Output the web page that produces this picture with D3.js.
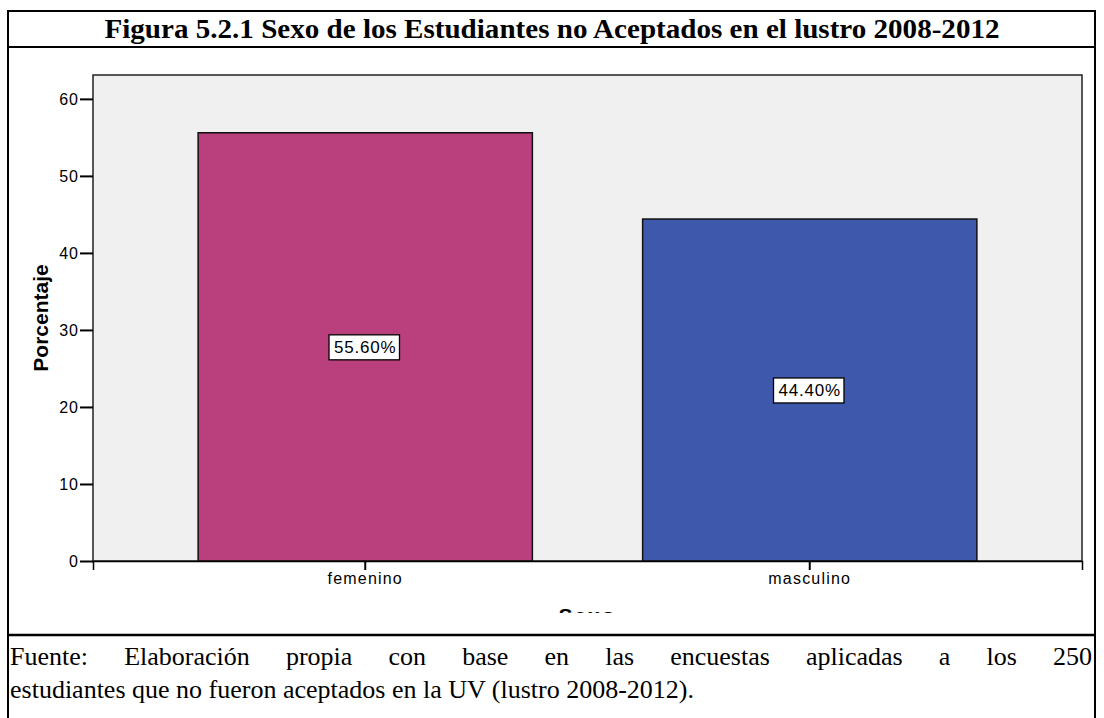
<!DOCTYPE html>
<html>
<head>
<meta charset="utf-8">
<script src="https://cdn.jsdelivr.net/npm/d3@7"></script>
<style>
  body { margin: 0; background: #fff; }
  svg { display: block; }
</style>
</head>
<body>
<svg id="chart"></svg>
<script>
const categories = ["femenino", "masculino"];
const values = [55.6, 44.4];
const barColors = ["#BA3F7D", "#3E58AC"];
const yTicks = [0, 10, 20, 30, 40, 50, 60];
const titleText = "Figura 5.2.1 Sexo de los Estudiantes no Aceptados en el lustro 2008-2012";
const sourceLines = [
    "Fuente: Elaboración propia con base en las encuestas aplicadas a los 250",
    "estudiantes que no fueron aceptados en la UV (lustro 2008-2012)."
];

const width = 1104;
const height = 718;
const plot = { left: 93, right: 1082, top: 75, bottom: 561 };

const svg = d3.select('#chart')
    .attr('width', width)
    .attr('height', height);

// frame of the figure table
const frame = svg.append('g').attr('stroke', '#000').attr('stroke-width', 2);
frame.append('line').attr('x1', 8).attr('x2', 1095).attr('y1', 11).attr('y2', 11);
frame.append('line').attr('x1', 8).attr('x2', 1095).attr('y1', 47).attr('y2', 47);
frame.append('line').attr('x1', 8).attr('x2', 1095).attr('y1', 635).attr('y2', 635).attr('stroke-width', 2.5);
frame.append('line').attr('x1', 8).attr('x2', 8).attr('y1', 10).attr('y2', height);
frame.append('line').attr('x1', 1095).attr('x2', 1095).attr('y1', 10).attr('y2', height);

svg.append('text')
    .attr('x', 552)
    .attr('y', 38)
    .attr('text-anchor', 'middle')
    .attr('font-family', '"Liberation Serif", "Times New Roman", serif')
    .attr('font-weight', 'bold')
    .attr('font-size', 28)
    .attr('textLength', 895)
    .attr('lengthAdjust', 'spacingAndGlyphs')
    .text(titleText);

const x = d3.scaleBand()
    .domain(categories)
    .range([plot.left, plot.right])
    .paddingInner(0.248)
    .paddingOuter(0.2365);

const y = d3.scaleLinear()
    .domain([0, 63.1])
    .range([plot.bottom, plot.top]);

// plot background
svg.append('rect')
    .attr('x', plot.left)
    .attr('y', plot.top)
    .attr('width', plot.right - plot.left)
    .attr('height', plot.bottom - plot.top)
    .attr('fill', '#F0F0F0')
    .attr('stroke', '#222')
    .attr('stroke-width', 1.5);

svg.selectAll('.bar')
    .data(categories)
    .join('rect')
    .attr('class', 'bar')
    .attr('x', d => x(d))
    .attr('y', (d, i) => y(values[i]))
    .attr('width', x.bandwidth())
    .attr('height', (d, i) => y(0) - y(values[i]))
    .attr('fill', (d, i) => barColors[i])
    .attr('stroke', '#111')
    .attr('stroke-width', 1.5);

// axes
const yAxis = svg.append('g')
    .attr('transform', `translate(${plot.left},0)`)
    .call(d3.axisLeft(y).tickValues(yTicks).tickSize(13).tickPadding(1));
yAxis.select('.domain').remove();
yAxis.selectAll('line').attr('stroke', '#000').attr('stroke-width', 2);
yAxis.selectAll('text')
    .attr('font-family', '"Liberation Sans", Arial, sans-serif')
    .attr('font-size', 16)
    .attr('letter-spacing', 1)
    .attr('fill', '#000');

const xAxis = svg.append('g')
    .attr('transform', `translate(0,${plot.bottom})`)
    .call(d3.axisBottom(x).tickSize(9).tickPadding(3));
xAxis.select('.domain').attr('stroke', '#000').attr('stroke-width', 1.5);
xAxis.selectAll('line').attr('stroke', '#000').attr('stroke-width', 2);
xAxis.selectAll('text')
    .attr('font-family', '"Liberation Sans", Arial, sans-serif')
    .attr('font-size', 16)
    .attr('letter-spacing', 1.2)
    .attr('fill', '#000');

// axis titles
svg.append('text')
    .attr('transform', `translate(48,${(plot.top + plot.bottom) / 2}) rotate(-90)`)
    .attr('text-anchor', 'middle')
    .attr('font-family', '"Liberation Sans", Arial, sans-serif')
    .attr('font-weight', 'bold')
    .attr('font-size', 21)
    .text('Porcentaje');

svg.append('clipPath').attr('id', 'cut')
    .append('rect').attr('x', 0).attr('y', 0).attr('width', width).attr('height', 613);
svg.append('text')
    .attr('clip-path', 'url(#cut)')
    .attr('x', (plot.left + plot.right) / 2)
    .attr('y', 623)
    .attr('text-anchor', 'middle')
    .attr('font-family', '"Liberation Sans", Arial, sans-serif')
    .attr('font-weight', 'bold')
    .attr('font-size', 21)
    .attr('letter-spacing', 2)
    .text('Sexo');

// value labels in boxes
const labels = svg.selectAll('.vlabel')
    .data(categories)
    .join('g')
    .attr('class', 'vlabel');
labels.append('rect');
labels.append('text')
    .attr('x', d => x(d) + x.bandwidth() / 2)
    .attr('y', (d, i) => (y(0) + y(values[i])) / 2)
    .attr('dy', '0.35em')
    .attr('text-anchor', 'middle')
    .attr('font-family', '"Liberation Sans", Arial, sans-serif')
    .attr('font-size', 17)
    .attr('letter-spacing', 0.8)
    .text((d, i) => values[i].toFixed(2) + '%');
labels.each(function () {
    const g = d3.select(this);
    const b = g.select('text').node().getBBox();
    g.select('rect')
        .attr('x', b.x - 5)
        .attr('y', b.y - 3)
        .attr('width', b.width + 8)
        .attr('height', b.height + 6)
        .attr('fill', '#fff')
        .attr('stroke', '#000')
        .attr('stroke-width', 1.3);
});

// source note, first line justified
const left = 10, right = 1092;
sourceLines.forEach((line, i) => {
    const t = svg.append('text')
        .attr('x', left)
        .attr('y', 665 + i * 33)
        .attr('font-family', '"Liberation Serif", "Times New Roman", serif')
        .attr('font-size', 26)
        .text(line);
    if (i === 0) {
        const natural = t.node().getComputedTextLength();
        const gaps = line.split(' ').length - 1;
        t.attr('word-spacing', (right - left - natural) / gaps);
    }
});
</script>
</body>
</html>
